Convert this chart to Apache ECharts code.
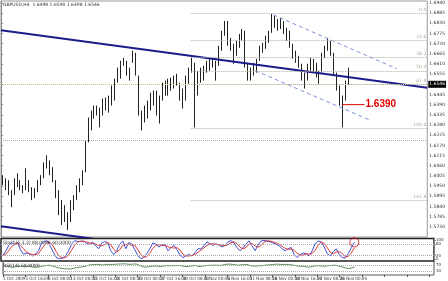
<!DOCTYPE html>
<html><head><meta charset="utf-8">
<script src="https://cdn.jsdelivr.net/npm/echarts@6/dist/echarts.min.js"></script>
<style>html,body{margin:0;padding:0;background:#fff}#c{width:448px;height:281px}</style>
</head><body><div id="c"></div><script>
const opens = [1.5982,1.5971,1.5949,1.5917,1.5901,1.5971,1.5965,1.5944,1.5928,1.5971,1.5928,1.5901,1.5928,1.5965,1.5998,1.6062,1.6089,1.6025,1.5982,1.5901,
1.5809,1.5847,1.5777,1.5793,1.5858,1.5885,1.5939,1.5971,1.6025,1.6186,1.6304,1.6331,1.6369,1.6347,1.6347,1.6401,1.6385,1.6423,1.6477,1.6520,
1.6573,1.6616,1.6627,1.6563,1.6627,1.6665,1.6541,1.6347,1.6315,1.6358,1.6390,1.6434,1.6412,1.6358,1.6423,1.6493,1.6466,1.6509,1.6487,1.6530,
1.6503,1.6434,1.6412,1.6520,1.6573,1.6600,1.6466,1.6547,1.6563,1.6584,1.6611,1.6627,1.6616,1.6600,1.6692,1.6772,1.6816,1.6735,1.6708,1.6681,
1.6713,1.6756,1.6778,1.6616,1.6547,1.6573,1.6595,1.6627,1.6692,1.6708,1.6746,1.6778,1.6864,1.6832,1.6810,1.6842,1.6789,1.6756,1.6713,1.6654,
1.6638,1.6606,1.6541,1.6520,1.6595,1.6627,1.6584,1.6552,1.6563,1.6654,1.6692,1.6735,1.6670,1.6563,1.6487,1.6412,1.6428,1.6498];
const closes = [1.5971,1.5949,1.5917,1.5901,1.5971,1.5965,1.5944,1.5928,1.5971,1.5928,1.5901,1.5928,1.5965,1.5998,1.6062,1.6089,1.6025,1.5982,1.5901,1.5809,
1.5847,1.5777,1.5793,1.5858,1.5885,1.5939,1.5971,1.6025,1.6186,1.6304,1.6331,1.6369,1.6347,1.6294,1.6401,1.6385,1.6423,1.6477,1.6520,1.6573,
1.6616,1.6627,1.6563,1.6584,1.6665,1.6563,1.6347,1.6315,1.6358,1.6390,1.6434,1.6412,1.6358,1.6423,1.6493,1.6466,1.6509,1.6487,1.6530,1.6503,
1.6434,1.6412,1.6520,1.6573,1.6600,1.6466,1.6547,1.6563,1.6584,1.6611,1.6627,1.6616,1.6600,1.6692,1.6772,1.6816,1.6735,1.6708,1.6681,1.6713,
1.6756,1.6778,1.6616,1.6547,1.6573,1.6595,1.6627,1.6692,1.6708,1.6746,1.6778,1.6864,1.6832,1.6810,1.6842,1.6789,1.6756,1.6713,1.6654,1.6638,
1.6606,1.6541,1.6520,1.6595,1.6627,1.6584,1.6552,1.6563,1.6654,1.6692,1.6735,1.6670,1.6563,1.6487,1.6412,1.6428,1.6498,1.6546];
const lows = [1.5955,1.5928,1.5901,1.5836,1.5901,1.5944,1.5928,1.5912,1.5928,1.5917,1.5874,1.5885,1.5917,1.5955,1.5992,1.6046,1.6009,1.5971,1.5885,1.5793,
1.5740,1.5756,1.5713,1.5756,1.5820,1.5874,1.5917,1.5955,1.6025,1.6186,1.6251,1.6315,1.6331,1.6267,1.6331,1.6358,1.6347,1.6385,1.6412,1.6509,
1.6530,1.6600,1.6547,1.6520,1.6616,1.6547,1.6331,1.6251,1.6294,1.6315,1.6358,1.6385,1.6331,1.6288,1.6412,1.6439,1.6439,1.6466,1.6477,1.6493,
1.6412,1.6369,1.6412,1.6503,1.6563,1.6267,1.6439,1.6509,1.6520,1.6563,1.6573,1.6590,1.6520,1.6600,1.6681,1.6762,1.6708,1.6681,1.6611,1.6654,
1.6697,1.6735,1.6590,1.6520,1.6520,1.6547,1.6563,1.6627,1.6670,1.6692,1.6724,1.6778,1.6805,1.6789,1.6799,1.6772,1.6735,1.6697,1.6638,1.6616,
1.6590,1.6520,1.6477,1.6520,1.6573,1.6563,1.6536,1.6503,1.6563,1.6643,1.6681,1.6654,1.6547,1.6466,1.6385,1.6267,1.6412,1.6498];
const highs = [1.6009,1.5992,1.5982,1.5928,1.5992,1.6019,1.5982,1.5955,1.6046,1.5982,1.5944,1.5939,1.5982,1.6009,1.6078,1.6116,1.6089,1.6052,1.5982,1.5928,
1.5874,1.5847,1.5809,1.5874,1.5901,1.5955,1.5992,1.6035,1.6197,1.6321,1.6358,1.6385,1.6385,1.6374,1.6423,1.6428,1.6439,1.6493,1.6530,1.6590,
1.6627,1.6643,1.6627,1.6590,1.6681,1.6670,1.6547,1.6358,1.6385,1.6412,1.6455,1.6466,1.6466,1.6439,1.6509,1.6520,1.6530,1.6536,1.6547,1.6557,
1.6509,1.6477,1.6547,1.6590,1.6643,1.6616,1.6573,1.6590,1.6600,1.6627,1.6643,1.6643,1.6627,1.6708,1.6789,1.6842,1.6842,1.6751,1.6719,1.6735,
1.6772,1.6799,1.6789,1.6616,1.6590,1.6616,1.6638,1.6708,1.6724,1.6762,1.6789,1.6880,1.6869,1.6853,1.6859,1.6842,1.6805,1.6789,1.6719,1.6681,
1.6654,1.6611,1.6563,1.6611,1.6643,1.6638,1.6616,1.6573,1.6670,1.6708,1.6751,1.6735,1.6670,1.6563,1.6493,1.6439,1.6520,1.6590];
const stochK = [18,40,70,88,75,88,50,27,33,28,18,28,45,85,94,95,65,35,8,4,
8,18,45,80,97,92,93,95,82,78,90,70,55,85,92,87,45,25,45,80,
95,55,88,80,50,20,4,10,30,55,85,80,64,75,78,45,60,73,50,25,
9,20,25,18,35,55,55,70,91,80,73,80,75,64,73,90,97,85,60,45,
60,80,96,70,45,75,95,98,95,91,85,78,70,55,45,55,62,25,10,25,
33,30,18,45,82,95,90,64,30,18,40,55,25,9,8,30,62,88];
const stochD = [20,26,43,66,78,84,71,55,37,29,26,25,30,53,75,91,85,65,36,16,
7,10,24,48,74,90,94,93,90,85,83,79,72,70,77,88,75,52,38,50,
73,77,79,74,73,50,25,11,15,32,57,73,76,73,72,66,61,59,61,49,
28,18,18,21,26,36,48,60,72,80,81,78,76,73,71,76,87,91,81,63,
55,62,79,82,70,63,72,89,96,95,90,85,78,68,57,52,54,47,32,20,
23,29,27,31,48,74,89,83,61,37,29,38,40,30,14,16,33,60];
const rsi = [62,60,58,55,60,62,60,58,62,58,55,56,60,64,68,70,64,58,52,48,
45,44,42,48,52,56,58,62,70,74,75,76,74,72,75,76,75,77,78,79,
80,78,76,78,79,70,60,56,60,62,64,64,60,64,66,66,67,66,68,66,
62,60,64,66,68,60,64,66,68,70,70,70,68,72,76,78,76,73,70,72,
74,75,68,64,64,66,66,70,72,74,75,78,76,75,76,74,72,68,64,62,
62,58,56,62,66,66,64,62,66,68,70,68,62,56,50,46,50,58];
const dateLabels = ["1 Oct 2009","5 Oct 16:00","8 Oct 08:00","13 Oct 00:00","15 Oct 16:00","20 Oct 08:00","23 Oct 00:00","27 Oct 16:00",
"30 Oct 08:00","4 Nov 00:00","6 Nov 16:00","11 Nov 08:00","16 Nov 00:00","18 Nov 16:00","23 Nov 08:00","26 Nov 00:00"];
const fibLevels = [0, 23.6, 38.2, 50, 61.8, 100, 161.8];
const fibHigh = 1.6885, fibLow = 1.6261, fibStart = 64.3;
const channelMain = [[0, 1.6792], [144, 1.6481]];
const channelLow = [[0, 1.5733], [35, 1.5657]];
const dashUpper = [[92, 1.6875], [133.7, 1.6584]];
const dashLower = [[86, 1.6573], [125, 1.6304]];
const markPrice = 1.6390;
const markSpan = [115.3, 122.8];
const supportLine = 1.6240;

const N = 144;
const categories = Array.from({length: N}, (_, i) => String(i));
const candles = opens.map((o, i) => [o, closes[i], lows[i], highs[i]]);
const last = opens.length - 1;
const font = 'DejaVu Sans';
const narrow = "'Liberation Sans Narrow', 'DejaVu Sans Condensed', sans-serif";
const tiny = {fontSize: 5, fontFamily: font, color: '#333'};

const fibLines = fibLevels.map(l => {
  const p = fibHigh - (fibHigh - fibLow) * l / 100;
  return [{coord: [fibStart, p]}, {coord: [N, p], label: {show: true, formatter: l.toFixed(1), position: 'insideEndTop', distance: 1, fontSize: 4.5, fontFamily: font, color: '#aa9'}}];
});

const chart = echarts.init(document.getElementById('c'), null, {renderer: 'canvas'});
chart.setOption({
  animation: false,
  backgroundColor: '#fff',
  title: [
    {text: 'GBPUSD,H4  ' + [opens[last], highs[last], lows[last], closes[last]].map(v => v.toFixed(4)).join(' '), left: 3, top: 2, padding: 0, textStyle: Object.assign({fontWeight: 'normal'}, tiny, {fontSize: 4.5})},
    {text: 'Stoch(5,3,3) ' + stochK[last].toFixed(4) + ' ' + stochD[last].toFixed(4), left: 3, top: 240, padding: 0, textStyle: Object.assign({fontWeight: 'normal'}, tiny, {fontSize: 4.5})},
    {text: 'RSI(14) ' + rsi[last].toFixed(4), left: 3, top: 263, padding: 0, textStyle: Object.assign({fontWeight: 'normal'}, tiny, {fontSize: 4.5})}
  ],
  grid: [
    {left: 1, right: 14, top: 1, height: 236, show: true, borderColor: '#999', borderWidth: 1},
    {left: 1, right: 14, top: 238.5, height: 22.5, show: true, borderColor: '#222', borderWidth: 1.5},
    {left: 1, right: 14, top: 261, height: 14, show: true, borderColor: '#555', borderWidth: 1}
  ],
  xAxis: [
    {type: 'category', gridIndex: 0, data: categories, show: false},
    {type: 'value', gridIndex: 0, min: 0, max: N, show: false},
    {type: 'category', gridIndex: 1, data: categories, show: false},
    {type: 'category', gridIndex: 2, data: categories, show: false},
    {type: 'value', gridIndex: 2, min: 0, max: N, interval: 7.5, position: 'bottom',
     axisLine: {show: false}, splitLine: {show: false},
     axisTick: {show: true, length: 2, lineStyle: {color: '#555'}},
     axisLabel: {margin: 1, align: 'left', showMaxLabel: false, fontSize: 4.5, fontFamily: narrow, color: '#333',
                 formatter: v => dateLabels[Math.round(v / 7.5)] || ''}}
  ],
  yAxis: [
    {type: 'value', gridIndex: 0, position: 'right', min: 1.5675, max: 1.6950, interval: 0.0055,
     splitLine: {show: false}, axisLine: {show: true, lineStyle: {color: '#888'}},
     axisTick: {show: true, length: 2, lineStyle: {color: '#888'}},
     axisLabel: Object.assign({margin: 2, showMinLabel: false, showMaxLabel: false, formatter: v => v.toFixed(4)}, tiny, {fontSize: 4.5})},
    {type: 'value', gridIndex: 1, position: 'right', min: -8, max: 108,
     splitLine: {show: false}, axisLine: {show: true, lineStyle: {color: '#888'}},
     axisTick: {show: true, length: 2, customValues: [0, 20, 80, 100], lineStyle: {color: '#888'}},
     axisLabel: Object.assign({margin: 2, customValues: [0, 20, 80, 100]}, tiny, {fontSize: 4})},
    {type: 'value', gridIndex: 2, position: 'right', min: 0, max: 100,
     splitLine: {show: false}, axisLine: {show: true, lineStyle: {color: '#888'}},
     axisTick: {show: true, length: 2, customValues: [30, 70], lineStyle: {color: '#888'}},
     axisLabel: Object.assign({margin: 2, customValues: [30, 70]}, tiny, {fontSize: 4})}
  ],
  series: [
    {type: 'candlestick', xAxisIndex: 0, yAxisIndex: 0, data: candles, barWidth: 1.2, silent: true,
     itemStyle: {color: '#666', color0: '#222', borderColor: '#222', borderColor0: '#222', borderWidth: 1},
     markLine: {symbol: 'none', silent: true, animation: false,
       data: [
         {yAxis: closes[last], lineStyle: {type: 'dotted', color: '#c4c48a', width: 1},
          label: {show: true, position: 'end', distance: 1, formatter: closes[last].toFixed(4), backgroundColor: '#000', color: '#fff', fontSize: 4.5, fontFamily: font, padding: [1, 1]}},
         {yAxis: supportLine, lineStyle: {type: 'dotted', color: '#aaa', width: 1}, label: {show: false}}
       ]}},
    {type: 'line', xAxisIndex: 1, yAxisIndex: 0, data: channelMain, symbol: 'none', silent: true, lineStyle: {color: '#1c1c8a', width: 2}},
    {type: 'line', xAxisIndex: 1, yAxisIndex: 0, data: channelLow, symbol: 'none', silent: true, lineStyle: {color: '#1c1c8a', width: 2}},
    {type: 'line', xAxisIndex: 1, yAxisIndex: 0, data: dashUpper, symbol: 'none', silent: true, lineStyle: {color: '#7f92dc', width: 1, type: [4, 3]}},
    {type: 'line', xAxisIndex: 1, yAxisIndex: 0, data: dashLower, symbol: 'none', silent: true, lineStyle: {color: '#7f92dc', width: 1, type: [4, 3]}},
    {type: 'line', xAxisIndex: 1, yAxisIndex: 0, data: [[fibStart, fibHigh]], symbol: 'none', silent: true, lineStyle: {opacity: 0},
     markLine: {symbol: 'none', silent: true, lineStyle: {type: 'dotted', color: '#b0b0a0', width: 1}, data: fibLines}},
    {type: 'line', xAxisIndex: 1, yAxisIndex: 0, data: [[markSpan[0], markPrice], [markSpan[1], markPrice]], symbol: 'none', silent: true,
     lineStyle: {color: '#e00000', width: 1},
     endLabel: {show: true, formatter: markPrice.toFixed(4), color: '#e00000', fontWeight: 'bold', fontSize: 10, fontFamily: 'Liberation Sans', distance: 1}},
    {type: 'line', xAxisIndex: 2, yAxisIndex: 1, data: stochK, symbol: 'none', silent: true, lineStyle: {color: '#3f50d8', width: 1},
     markLine: {symbol: 'none', silent: true, label: {show: false}, lineStyle: {type: 'dotted', color: '#aaa', width: 1}, data: [{yAxis: 20}, {yAxis: 80}]}},
    {type: 'line', xAxisIndex: 2, yAxisIndex: 1, data: stochD, symbol: 'none', silent: true, lineStyle: {color: '#e03a3a', width: 1}},
    {type: 'scatter', xAxisIndex: 2, yAxisIndex: 1, data: [[last, stochK[last]]], symbol: 'circle', symbolSize: 9, silent: true,
     itemStyle: {color: 'rgba(0,0,0,0)', borderColor: '#e00000', borderWidth: 1}},
    {type: 'line', xAxisIndex: 3, yAxisIndex: 2, data: rsi, symbol: 'none', silent: true, lineStyle: {color: '#5f8f5f', width: 1},
     markLine: {symbol: 'none', silent: true, label: {show: false}, lineStyle: {type: 'dotted', color: '#aaa', width: 1}, data: [{yAxis: 30}, {yAxis: 70}]}}
  ]
});
</script></body></html>
